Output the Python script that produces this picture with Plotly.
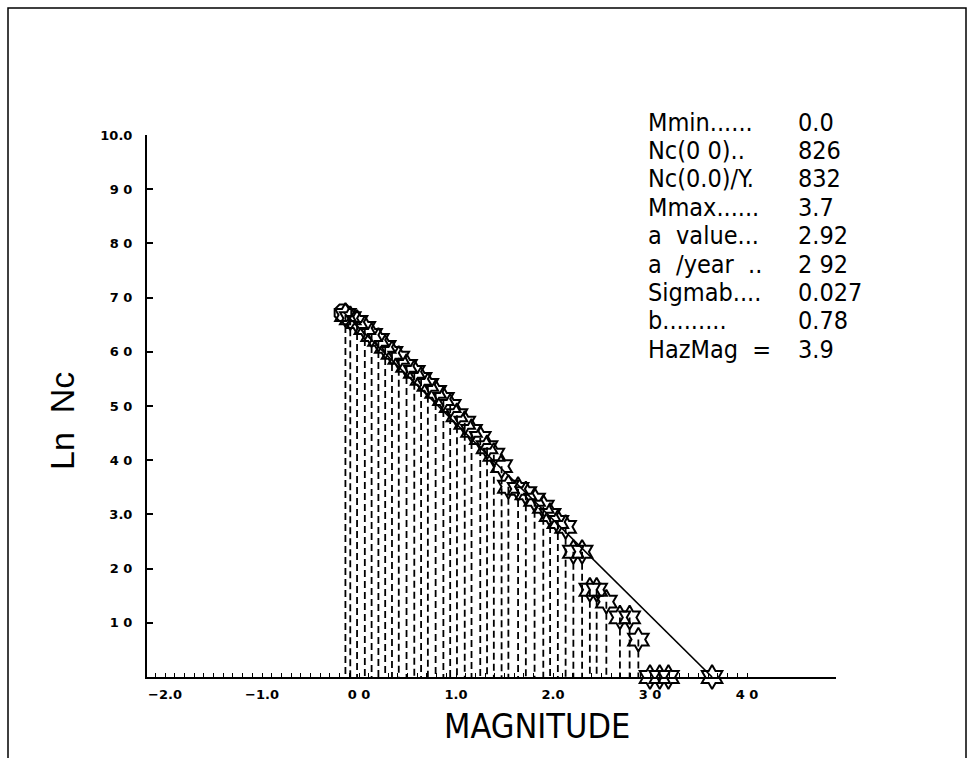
import plotly.graph_objects as go

# ---- data ----
mag = [-0.14, -0.09, -0.02, 0.06, 0.13, 0.20, 0.27, 0.34, 0.41, 0.49, 0.57, 0.64,
       0.71, 0.79, 0.87, 0.94, 1.01, 1.09, 1.16, 1.25, 1.32, 1.39, 1.47, 1.54,
       1.64, 1.72, 1.81, 1.90, 1.97, 2.05, 2.13, 2.21, 2.30, 2.38, 2.45, 2.55,
       2.69, 2.79, 2.88, 3.00, 3.10, 3.19, 3.64]
ln_nc = [6.68, 6.62, 6.55, 6.44, 6.31, 6.22, 6.09, 5.98, 5.89, 5.74, 5.63, 5.50,
         5.39, 5.26, 5.13, 5.00, 4.83, 4.69, 4.54, 4.41, 4.24, 4.10, 3.89, 3.51,
         3.47, 3.39, 3.27, 3.14, 2.99, 2.86, 2.77, 2.31, 2.31, 1.61, 1.61, 1.39,
         1.10, 1.10, 0.69, 0.0, 0.0, 0.0, 0.0]
first_mag = [-0.165]
first_ln = [6.72]
fit_mag = [-0.16, 3.64]
fit_ln = [6.73, 0.0]

x_tick_vals = [-2, -1, 0, 1, 2, 3, 4]
x_tick_text = ["\u22122.0", "\u22121.0", "0 0", "1.0", "2.0", "3 0", "4 0"]
x_minor_vals = [round(-2.1 + 0.1 * i, 1) for i in range(61)]
y_tick_vals = list(range(0, 11))
y_tick_text = ["", "1 0", "2 0", "3.0", "4 0", "5 0", "6 0", "7 0", "8 0", "9 0", "10.0"]

stat_labels = ["Mmin......", "Nc(0 0)..", "Nc(0.0)/Y.", "Mmax......", "a  value...",
               "a  /year  ..", "Sigmab....", "b.........", "HazMag  ="]
stat_values = ["0.0", "826", "832", "3.7", "2.92", "2 92", "0.027", "0.78", "3.9"]

# ---- layout geometry (pixels) ----
W, H = 969, 758
L, R, T, B = 147, 836, 135, 677


def fx(px):
    return (px - L) / (R - L)


def fy(py):
    return (B - py) / (B - T)


fig = go.Figure()

# drop lines
dx, dy = [], []
for m, v in zip(mag, ln_nc):
    if v > 0:
        dx += [m, m, None]
        dy += [v, 0, None]
fig.add_trace(go.Scatter(x=dx, y=dy, mode="lines",
                         line=dict(color="black", width=1.8, dash="7px,4px"),
                         hoverinfo="skip", showlegend=False))
# fitted line
fig.add_trace(go.Scatter(x=fit_mag, y=fit_ln, mode="lines",
                         line=dict(color="black", width=1.6), showlegend=False))
# stars
fig.add_trace(go.Scatter(x=mag, y=ln_nc, mode="markers",
                         marker=dict(symbol="hexagram-open", size=18, color="black",
                                     line=dict(color="black", width=2)),
                         showlegend=False, cliponaxis=False))
# first point octagon
fig.add_trace(go.Scatter(x=first_mag, y=first_ln, mode="markers",
                         marker=dict(symbol="octagon-open", size=18, color="black",
                                     line=dict(color="black", width=2)),
                         showlegend=False, cliponaxis=False))

annotations = []
y0, dyl = 122, 28.4
stat_font = dict(family="DejaVu Sans Condensed, DejaVu Sans", size=25, color="black")
for i, (lab, val) in enumerate(zip(stat_labels, stat_values)):
    py = y0 + dyl * i
    annotations.append(dict(x=fx(646), y=fy(py), xref="paper", yref="paper",
                            text=lab, showarrow=False, xanchor="left", yanchor="middle",
                            font=stat_font))
    annotations.append(dict(x=fx(796), y=fy(py), xref="paper", yref="paper",
                            text=val, showarrow=False, xanchor="left", yanchor="middle",
                            font=stat_font))

annotations.append(dict(x=fx(537), y=fy(726), xref="paper", yref="paper",
                        text="MAGNITUDE", showarrow=False, xanchor="center", yanchor="middle",
                        font=dict(family="DejaVu Sans Condensed, Liberation Sans", size=34,
                                  color="black")))
annotations.append(dict(x=fx(62), y=fy(421), xref="paper", yref="paper",
                        text="Ln  Nc", showarrow=False, xanchor="center", yanchor="middle",
                        textangle=-90,
                        font=dict(family="Liberation Sans", size=34, color="black")))

fig.update_layout(
    width=W, height=H,
    margin=dict(l=L, r=W - R, t=T, b=H - B),
    paper_bgcolor="white", plot_bgcolor="white",
    showlegend=False,
    annotations=annotations,
    shapes=[dict(type="rect", xref="paper", yref="paper",
                 x0=fx(8), x1=fx(966), y0=fy(8), y1=fy(770),
                 line=dict(color="black", width=1.5), fillcolor="rgba(0,0,0,0)",
                 layer="below")],
)
fig.update_xaxes(range=[(L - 359) / 97, (R - 359) / 97],
                 showgrid=False, zeroline=False,
                 showline=True, linecolor="black", linewidth=2,
                 tickmode="array", tickvals=x_tick_vals, ticktext=x_tick_text,
                 ticks="inside", ticklen=4, tickcolor="black", tickwidth=1,
                 ticklabelstandoff=4,
                 minor=dict(tickmode="array", tickvals=x_minor_vals, ticks="inside",
                            ticklen=4, tickcolor="black", tickwidth=1, showgrid=False),
                 tickfont=dict(family="DejaVu Sans", size=13, color="black", weight="bold"))
fig.update_yaxes(range=[0, 10],
                 showgrid=False, zeroline=False,
                 showline=True, linecolor="black", linewidth=2,
                 tickmode="array", tickvals=y_tick_vals, ticktext=y_tick_text,
                 ticks="inside", ticklen=6, tickcolor="black", tickwidth=1.5,
                 ticklabelstandoff=10,
                 tickfont=dict(family="DejaVu Sans", size=13, color="black", weight="bold"))

fig.write_html("out.html")
